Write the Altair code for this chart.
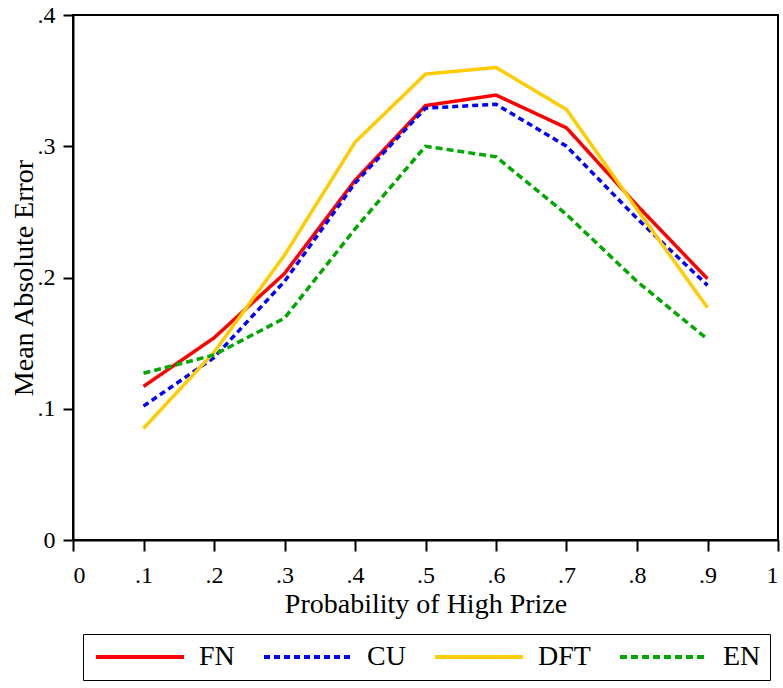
import altair as alt
import pandas as pd

# Data
prob = [0.1, 0.2, 0.3, 0.4, 0.5, 0.6, 0.7, 0.8, 0.9]
series_names = ["FN", "CU", "DFT", "EN"]
fn_vals = [0.117, 0.154, 0.203, 0.274, 0.331, 0.339, 0.314, 0.255, 0.199]
cu_vals = [0.102, 0.139, 0.197, 0.272, 0.329, 0.332, 0.300, 0.245, 0.194]
dft_vals = [0.085, 0.143, 0.217, 0.303, 0.355, 0.360, 0.328, 0.252, 0.177]
en_vals = [0.127, 0.141, 0.169, 0.237, 0.300, 0.292, 0.248, 0.197, 0.153]

colors = ["#ff0000", "#0000ff", "#ffcc00", "#00a800"]
dashes = [[1, 0], [6, 4], [1, 0], [7, 4]]

rows = []
for name, vals in zip(series_names, [fn_vals, cu_vals, dft_vals, en_vals]):
    for p, v in zip(prob, vals):
        rows.append({"p": p, "mae": v, "series": name})
df = pd.DataFrame(rows)

label_expr = ("datum.value == 0 ? '0' : datum.value == 1 ? '1' : "
              "replace(format(datum.value, '.1f'), '0.', '.')")

legend_kw = dict(title=None, orient="none", legendX=10, legendY=619,
                 direction="horizontal", columns=4,
                 symbolType="M-1,0H7.8", symbolSize=400,
                 symbolStrokeWidth=4, labelOffset=79,
                 columnPadding=21, padding=9,
                 strokeColor="black", labelFontSize=28)

chart = alt.Chart(df).mark_line(strokeWidth=3.5).encode(
    x=alt.X("p:Q",
            scale=alt.Scale(domain=[0, 1], nice=False),
            axis=alt.Axis(values=[0, 0.1, 0.2, 0.3, 0.4, 0.5, 0.6, 0.7, 0.8, 0.9, 1],
                          labelExpr=label_expr, title="Probability of High Prize",
                          tickSize=11, labelPadding=31, labelBaseline="alphabetic",
                          titleX=352.5, titleY=72, titleBaseline="alphabetic",
                          titleAnchor="middle", titleAlign="center")),
    y=alt.Y("mae:Q",
            scale=alt.Scale(domain=[0, 0.4], nice=False),
            axis=alt.Axis(values=[0, 0.1, 0.2, 0.3, 0.4], labelExpr=label_expr,
                          title="Mean Absolute Error", tickSize=10, labelPadding=8,
                          titleX=-41, titleY=262.5, titleBaseline="alphabetic",
                          titleAlign="center")),
    color=alt.Color("series:N",
                    scale=alt.Scale(domain=series_names, range=colors),
                    legend=alt.Legend(**legend_kw)),
    strokeDash=alt.StrokeDash("series:N",
                              scale=alt.Scale(domain=series_names, range=dashes),
                              legend=alt.Legend(**legend_kw)),
).properties(
    width=705, height=525,
    autosize=alt.AutoSizeParams(type="none"),
    padding={"left": 73, "top": 15, "right": 5, "bottom": 148},
).configure(
    font="Liberation Serif",
).configure_view(
    stroke="black", strokeWidth=2,
).configure_axis(
    grid=False, domainColor="black", domainWidth=2, tickColor="black", tickWidth=2,
    labelColor="black", titleColor="black", labelFontSize=24, titleFontSize=28,
    titleFontWeight="normal", labelFont="Liberation Serif", titleFont="Liberation Serif",
).configure_legend(
    labelColor="black", labelFont="Liberation Serif",
)

chart.save("out.html", embed_options={"renderer": "svg", "actions": False})
